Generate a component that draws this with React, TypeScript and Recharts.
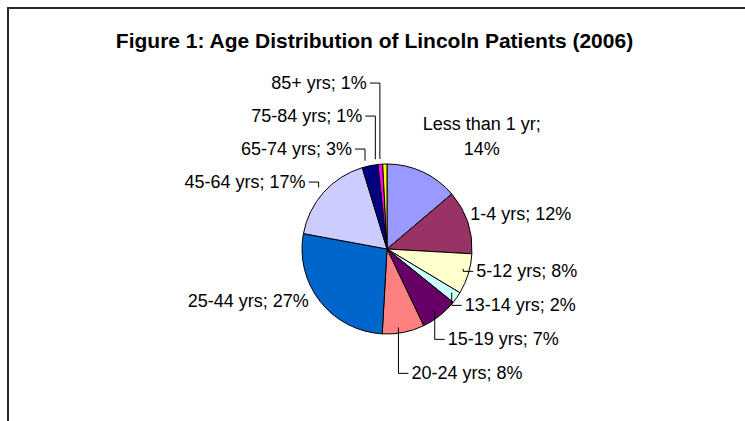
import React from "react";
import { PieChart, Pie, Cell } from "recharts";

const categories = [
  "Less than 1 yr",
  "1-4 yrs",
  "5-12 yrs",
  "13-14 yrs",
  "15-19 yrs",
  "20-24 yrs",
  "25-44 yrs",
  "45-64 yrs",
  "65-74 yrs",
  "75-84 yrs",
  "85+ yrs",
];
const values = [13.8, 12.1, 7.7, 2.2, 7.1, 8.0, 27.0, 17.4, 3.0, 0.9, 0.8];
const colors = [
  "#9999FF",
  "#993366",
  "#FFFFCC",
  "#CCFFFF",
  "#660066",
  "#FF8080",
  "#0066CC",
  "#CCCCFF",
  "#000080",
  "#FF00FF",
  "#FFFF00",
];
const leaderShown = [false, false, true, true, true, true, false, true, true, true, true];

const W = 745;
const H = 421;
const CX = 382;
const CY = 244;
const R = 85;
const FONT = "'Liberation Sans', Arial, sans-serif";
const FS = 18;
const LH = 25;
const GAP = 34;

const data = categories.map((name, i) => ({ name, value: values[i] }));
const total = values.reduce((a, b) => a + b, 0);

type Lab = {
  ex: number;
  ey: number;
  lx: number;
  ly: number;
  anchor: "start" | "end" | "middle";
  lines: string[];
  leader: boolean;
  right: boolean;
  h: number;
};

function computeLayout(): Lab[] {
  let cum = 0;
  const labs: Lab[] = values.map((v, i) => {
    const mid = (cum + v / 2) / total;
    cum += v;
    const th = mid * 2 * Math.PI;
    const s = Math.sin(th);
    const c = Math.cos(th);
    const ex = CX + R * s;
    const ey = CY - R * c;
    const px = CX + (R + 8) * s;
    const py = CY - (R + 8) * c;
    const pct = Math.round((v / total) * 100);
    const wrap = categories[i].length > 10;
    const lines = wrap ? [categories[i] + ";", pct + "%"] : [`${categories[i]}; ${pct}%`];
    const h = lines.length * LH;
    const right = s >= 0;
    const leader = leaderShown[i];
    let lx = px;
    if (leader) lx = right ? Math.max(px, ex + 13) : Math.min(px, ex - 13);
    const ly = py - (h - LH) * c;
    return { ex, ey, lx, ly, anchor: right ? "start" : "end", lines, leader, right, h };
  });
  const rightIdx = labs.map((l, i) => i).filter((i) => labs[i].right);
  for (let k = 1; k < rightIdx.length; k++) {
    const a = labs[rightIdx[k - 1]];
    const b = labs[rightIdx[k]];
    const gap = Math.max(GAP, (a.h + b.h) / 2 + 6);
    if (b.ly < a.ly + gap) b.ly = a.ly + gap;
  }
  const leftIdx = labs.map((l, i) => i).filter((i) => !labs[i].right);
  for (let k = 1; k < leftIdx.length; k++) {
    const a = labs[leftIdx[k - 1]];
    const b = labs[leftIdx[k]];
    if (b.ly > a.ly - GAP + 1) b.ly = a.ly - GAP + 1;
  }
  labs.forEach((l) => {
    if (l.lines.length > 1) {
      const wEst = Math.max(...l.lines.map((t) => t.length)) * FS * 0.45;
      l.lx = l.right ? l.lx + wEst / 2 : l.lx - wEst / 2;
      l.anchor = "middle";
    }
  });
  return labs;
}

const layout = computeLayout();

const renderLabel = (props: any) => {
  const i = props.index;
  const l = layout[i];
  if (!l) return null;
  const tipX = l.right ? l.lx - 3 : l.lx + 3;
  const y0 = l.ly - ((l.lines.length - 1) * LH) / 2;
  return (
    <g key={`lab-${i}`}>
      {l.leader && (
        <polyline
          points={`${l.ex},${l.ey} ${l.ex},${l.ly} ${tipX},${l.ly}`}
          fill="none"
          stroke="#000"
          strokeWidth={1}
        />
      )}
      <text
        x={l.lx}
        y={y0}
        textAnchor={l.anchor}
        dominantBaseline="central"
        fontFamily={FONT}
        fontSize={FS}
        fill="#000"
      >
        {l.lines.map((t, j) => (
          <tspan key={j} x={l.lx} y={y0 + j * LH}>
            {t}
          </tspan>
        ))}
      </text>
    </g>
  );
};

export default function App() {
  return (
    <div style={{ position: "absolute", left: 0, top: 0, width: W, height: H, background: "#fff", overflow: "hidden" }}>
      <div
        style={{
          position: "absolute",
          left: 7,
          top: 7,
          width: W,
          height: H,
          borderTop: "2px solid #2a2a2a",
          borderLeft: "2px solid #2a2a2a",
        }}
      />
      <div
        style={{
          position: "absolute",
          left: 2,
          top: 28,
          width: W,
          textAlign: "center",
          fontFamily: FONT,
          fontWeight: "bold",
          fontSize: 21,
          color: "#000",
          lineHeight: "26px",
        }}
      >
        Figure 1: Age Distribution of Lincoln Patients (2006)
      </div>
      <div style={{ position: "absolute", left: 0, top: 0 }}>
        <PieChart width={W} height={H}>
          <Pie
            data={data}
            dataKey="value"
            nameKey="name"
            cx={CX}
            cy={CY}
            outerRadius={R}
            startAngle={90}
            endAngle={-270}
            stroke="#000"
            strokeWidth={1}
            label={renderLabel}
            labelLine={false}
            isAnimationActive={false}
          >
            {data.map((d, i) => (
              <Cell key={d.name} fill={colors[i]} />
            ))}
          </Pie>
        </PieChart>
      </div>
    </div>
  );
}
